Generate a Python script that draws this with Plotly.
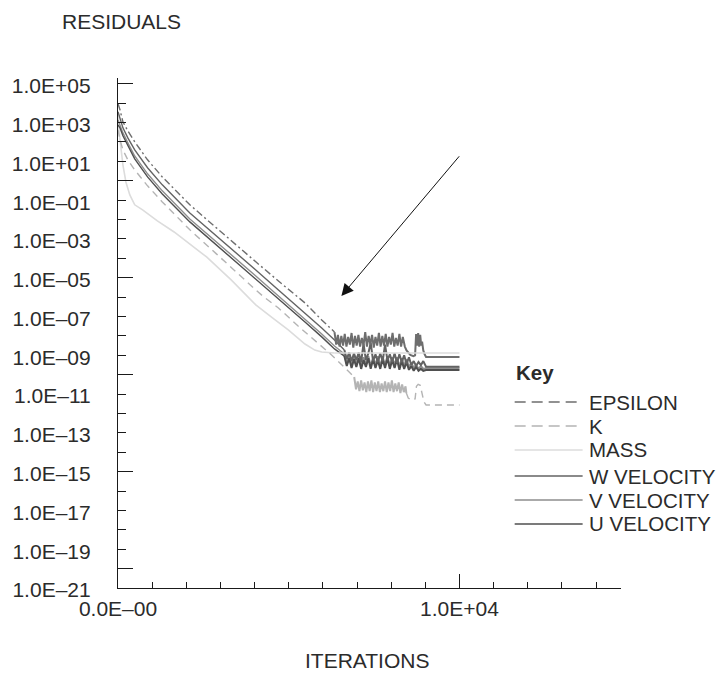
import plotly.graph_objects as go

# ---------------- data: iterations and log10(residual) ----------------
EPS_IT = [0, 58, 144, 288, 490, 865, 1297, 2104, 2882, 3545, 4035, 4698, 5476, 5966, 6340]
EPS_LG = [3.97, 3.66, 3.04, 2.57, 2.01, 1.08, 0.20, -1.24, -2.43, -3.41, -4.18, -5.17, -6.30, -7.18, -7.80]
EPS_TAIL_IT = [6340, 6390, 6440, 6490, 6540, 6590, 6640, 6690, 6740, 6790, 6840, 6890, 6940, 6990,
               7040, 7090, 7140, 7190, 7240, 7290, 7340, 7390, 7440, 7490, 7540, 7590, 7640, 7690,
               7740, 7790, 7840, 7890, 7940, 7990, 8040, 8090, 8140, 8190, 8240, 8290, 8340,
               8400, 8450, 8500, 8560, 8650, 8700, 8730, 8760, 8790, 8820, 8850, 8880, 8905,
               8940, 8980, 9021, 10000]
EPS_TAIL_LG = [-7.80, -8.45, -7.95, -8.55, -8.00, -8.50, -7.90, -8.55, -8.05, -8.45, -7.85, -8.60, -8.00, -8.50,
               -7.95, -8.55, -8.10, -8.50, -7.80, -8.55, -8.00, -8.45, -7.95, -8.60, -8.05, -8.50, -7.85, -8.55,
               -8.00, -8.50, -7.90, -8.55, -8.05, -8.45, -7.85, -8.55, -8.10, -8.50, -7.90, -8.55, -8.05,
               -8.55, -8.75, -8.85, -8.98, -9.04, -9.00, -7.90, -8.50, -7.85, -8.55, -7.95, -8.50, -8.30,
               -8.75, -8.95, -9.09, -9.09]

K_IT = [0, 58, 144, 288, 490, 865, 1297, 2104, 2882, 3545, 4035, 4237, 4698, 5274, 5476, 6254, 6917]
K_LG = [2.63, 2.11, 1.59, 1.08, 0.56, -0.26, -1.09, -2.53, -3.77, -4.86, -5.63, -5.94, -6.56, -7.49, -7.80, -8.98, -10.12]
K_TAIL_IT = [6917, 6970, 7020, 7070, 7120, 7170, 7220, 7270, 7320, 7370, 7420, 7470, 7520, 7570, 7620,
             7670, 7720, 7770, 7820, 7870, 7920, 7970, 8020, 8070, 8120, 8170, 8220, 8270, 8320, 8370,
             8420, 8444]
K_TAIL_LG = [-10.12, -10.75, -10.35, -10.85, -10.30, -10.80, -10.40, -10.90, -10.35, -10.85, -10.30,
             -10.90, -10.40, -10.85, -10.35, -10.90, -10.45, -10.85, -10.35, -10.90, -10.40,
             -10.85, -10.30, -10.90, -10.45, -10.85, -10.40, -10.95, -10.50, -10.90, -10.60, -10.95]
K_END_IT = [8444, 8500, 8580, 8700, 8740, 8790, 8850, 8900, 8960, 9021, 10000]
K_END_LG = [-10.95, -11.20, -11.31, -11.25, -10.60, -10.50, -10.55, -10.90, -11.40, -11.56, -11.56]

MASS_IT = [0, 58, 144, 231, 346, 490, 720, 1153, 1643, 2594, 3314, 4035, 4525, 4986, 5476, 5764, 5966, 6340]
MASS_LG = [3.40, 2.11, 0.82, -0.06, -0.73, -1.24, -1.50, -2.07, -2.64, -3.93, -5.11, -6.40, -7.07, -7.69,
           -8.42, -8.73, -8.83, -8.88]
MASS_END_IT = [6340, 10000]
MASS_END_LG = [-8.88, -8.88]

VEL_IT = [0, 58, 144, 288, 490, 865, 1297, 2104, 2882, 3545, 4035, 4698, 5476, 5966, 6340, 6629]
W_LG = [3.56, 3.25, 2.73, 2.21, 1.59, 0.67, -0.21, -1.66, -2.84, -3.82, -4.60, -5.63, -6.82, -7.59, -8.21, -8.73]
V_LG = [3.14, 2.88, 2.47, 1.96, 1.28, 0.36, -0.52, -1.97, -3.15, -4.13, -4.91, -5.94, -7.13, -7.90, -8.52, -8.93]
U_LG = [2.88, 2.73, 2.32, 1.80, 1.13, 0.20, -0.68, -2.12, -3.31, -4.29, -5.06, -6.09, -7.28, -8.05, -8.67, -9.04]

VEL_TAIL_IT = [6629, 6700, 6770, 6840, 6910, 6980, 7050, 7120, 7190, 7260, 7330, 7400, 7470, 7540, 7610,
               7680, 7750, 7820, 7890, 7960, 8030, 8100, 8170, 8240, 8310, 8380, 8450, 8520, 8590, 8660,
               8730, 8800, 8870, 8940, 9021, 10000]
W_TAIL_LG = [-8.73, -9.20, -8.85, -9.30, -8.90, -9.25, -8.85, -9.35, -8.40, -9.25, -8.90, -8.35, -9.30,
             -8.95, -9.35, -8.90, -9.30, -8.45, -9.25, -8.95, -9.35, -8.90, -9.40, -8.95, -9.35, -9.00,
             -9.45, -9.10, -9.50, -9.30, -9.55, -9.35, -9.50, -9.30, -9.59, -9.59]
V_TAIL_LG = [-8.93, -9.45, -9.05, -9.55, -9.10, -9.50, -9.00, -9.55, -9.10, -9.50, -9.05, -9.55, -9.15,
             -9.50, -9.05, -9.55, -9.10, -9.50, -9.05, -9.55, -9.10, -9.50, -9.10, -9.60, -9.15, -9.55,
             -9.20, -9.60, -9.40, -9.65, -9.50, -9.70, -9.55, -9.70, -9.67, -9.67]
U_TAIL_LG = [-9.04, -9.55, -9.15, -9.65, -9.20, -9.60, -9.15, -9.70, -9.25, -9.60, -9.15, -9.70, -9.20,
             -9.65, -9.25, -9.70, -9.20, -9.65, -9.15, -9.70, -9.25, -9.65, -9.20, -9.75, -9.30, -9.70,
             -9.35, -9.75, -9.55, -9.80, -9.60, -9.80, -9.70, -9.80, -9.76, -9.76]

SERIES = ["EPSILON", "K", "MASS", "W VELOCITY", "V VELOCITY", "U VELOCITY"]

# axis ticks
Y_EXPS = list(range(5, -22, -1))
Y_LONG_EXPS = [5, 0, -5, -10, -15, -20]
X_TICKS = list(range(0, 15000, 1000))
X_LABELS = {0: "0.0E\u201300", 10000: "1.0E+04"}
X_LONG = [0, 10000]

# arrow (iteration, log10 residual)
ARROW_TAIL = (10029, 1.34)
ARROW_HEAD = (6542, -5.94)

# ---------------- styling ----------------
FONT = "Liberation Sans, Arial, Helvetica, sans-serif"
FS = 21
KEY_FS = 20.5
TXT = "#2b2b2b"
AX = "#1a1a1a"
STYLE = {
    "EPSILON": dict(color="#6e6e6e", dash="7px,3px,2px,3px", width=1.4),
    "K": dict(color="#b4b4b4", dash="7px,5px", width=1.4),
    "MASS": dict(color="#dcdcdc", dash="solid", width=1.6),
    "W VELOCITY": dict(color="#636363", dash="solid", width=1.4),
    "V VELOCITY": dict(color="#8e8e8e", dash="solid", width=1.4),
    "U VELOCITY": dict(color="#4f4f4f", dash="solid", width=1.4),
}
KEY_SAMPLE_DASH = {"EPSILON": "11px,6px", "K": "11px,6px"}


def exp_label(e):
    sign = "+" if e >= 0 else "\u2013"
    return "1.0E%s%02d" % (sign, abs(e))


def pw(vals):
    return [10 ** v for v in vals]


fig = go.Figure()


def add(name, xs, lg, dash=None, width=None, axes=("x", "y")):
    st = dict(STYLE[name])
    if dash is not None:
        st["dash"] = dash
    if width is not None:
        st["width"] = width
    fig.add_trace(go.Scatter(
        x=xs, y=pw(lg), mode="lines", name=name, legendgroup=name,
        showlegend=False, line=st, hoverinfo="skip",
        xaxis=axes[0], yaxis=axes[1]))


add("MASS", MASS_IT, MASS_LG)
add("MASS", MASS_END_IT, MASS_END_LG, axes=("x2", "y2"))
add("K", K_IT, K_LG)
add("K", K_TAIL_IT, K_TAIL_LG, dash="solid", width=2.0)
add("K", K_END_IT, K_END_LG)
add("V VELOCITY", VEL_IT, V_LG)
add("V VELOCITY", VEL_TAIL_IT, V_TAIL_LG, width=2.0)
add("U VELOCITY", VEL_IT, U_LG)
add("U VELOCITY", VEL_TAIL_IT, U_TAIL_LG, width=2.0)
add("W VELOCITY", VEL_IT, W_LG)
add("W VELOCITY", VEL_TAIL_IT, W_TAIL_LG, width=2.0)
add("EPSILON", EPS_IT, EPS_LG)
add("EPSILON", EPS_TAIL_IT, EPS_TAIL_LG, dash="solid", width=2.0)

YR = [-21, 5.3]
XR = [0, 14730]

fig.update_layout(
    width=719, height=674,
    margin=dict(l=110, r=98, t=78, b=86),
    paper_bgcolor="white", plot_bgcolor="white",
    font=dict(family=FONT, size=FS, color=TXT),
    showlegend=False,
    xaxis=dict(
        range=XR, showgrid=False, zeroline=False,
        showline=True, linecolor=AX, linewidth=1.2,
        ticks="inside", ticklen=6, tickwidth=1.2, tickcolor=AX,
        tickmode="array", tickvals=X_TICKS,
        ticktext=[X_LABELS.get(v, "") for v in X_TICKS],
        tickfont=dict(size=FS, color=TXT), ticklabelstandoff=2,
    ),
    xaxis2=dict(
        range=XR, overlaying="x", anchor="y", side="bottom",
        showgrid=False, zeroline=False, showline=False,
        ticks="inside", ticklen=14, tickwidth=1.2, tickcolor=AX,
        tickmode="array", tickvals=X_LONG, showticklabels=False,
    ),
    yaxis=dict(
        type="log", range=YR, showgrid=False, zeroline=False,
        showline=True, linecolor=AX, linewidth=1.2,
        ticks="inside", ticklen=8, tickwidth=1.2, tickcolor=AX,
        tickmode="array", tickvals=[10.0 ** e for e in Y_EXPS],
        ticktext=[exp_label(e) if e % 2 else "" for e in Y_EXPS],
        tickfont=dict(size=FS, color=TXT),
        ticklabelstandoff=22, ticklabelshift=2,
    ),
    yaxis2=dict(
        type="log", range=YR, overlaying="y", anchor="x", side="left",
        showgrid=False, zeroline=False, showline=False,
        ticks="inside", ticklen=15, tickwidth=1.2, tickcolor=AX,
        tickmode="array", tickvals=[10.0 ** e for e in Y_LONG_EXPS], showticklabels=False,
    ),
)

# axis titles
fig.add_annotation(x=0.0078, y=1.110, xref="paper", yref="paper", text="RESIDUALS",
                   showarrow=False, xanchor="center", yanchor="middle",
                   font=dict(size=FS, color=TXT))
fig.add_annotation(x=0.496, y=-0.143, xref="paper", yref="paper", text="ITERATIONS",
                   showarrow=False, xanchor="center", yanchor="middle",
                   font=dict(size=FS, color=TXT))
# pointer arrow
fig.add_annotation(x=ARROW_HEAD[0], y=ARROW_HEAD[1], ax=ARROW_TAIL[0], ay=ARROW_TAIL[1],
                   xref="x", yref="y", axref="x", ayref="y", text="", showarrow=True,
                   arrowhead=2, arrowsize=2.4, arrowwidth=1, arrowcolor="#111")

# key (legend) drawn with the series' own styles
KEY_X0, KEY_X1, KEY_TX = 0.7886, 0.9237, 0.9315
KEY_TITLE_Y = 0.4216
KEY_ROW_Y = [0.3647, 0.3176, 0.2706, 0.2196, 0.1725, 0.1255]
fig.add_annotation(x=KEY_X0 - 0.002, y=KEY_TITLE_Y, xref="paper", yref="paper", text="<b>Key</b>",
                   showarrow=False, xanchor="left", yanchor="middle",
                   font=dict(size=KEY_FS, color=TXT))
for name, ry in zip(SERIES, KEY_ROW_Y):
    st = STYLE[name]
    fig.add_shape(type="line", xref="paper", yref="paper", x0=KEY_X0, x1=KEY_X1, y0=ry, y1=ry,
                  line=dict(color=st["color"], width=st["width"],
                            dash=KEY_SAMPLE_DASH.get(name, st["dash"])))
    fig.add_annotation(x=KEY_TX, y=ry, xref="paper", yref="paper", text=name,
                       showarrow=False, xanchor="left", yanchor="middle",
                       font=dict(size=KEY_FS, color=TXT))

# remove the browser's default page margin so the 719x674 figure fills the window exactly
fig.write_html("out.html", config={"displayModeBar": False},
               post_script="document.body.style.margin='0';")
